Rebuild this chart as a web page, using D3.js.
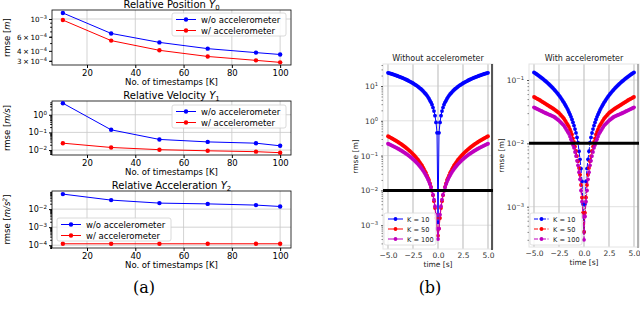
<!DOCTYPE html>
<html>
<head>
<meta charset="utf-8">
<script src="https://cdn.jsdelivr.net/npm/d3@7"></script>
<style>
body { margin: 0; background: #fff; }
svg { display: block; font-family: "DejaVu Sans", sans-serif; }
</style>
</head>
<body>
<div id="viz"></div>
<script>
// ---- (a) data ----
timestamps = [10, 30, 50, 70, 90, 100];
seriesNames = ["w/o accelerometer", "w/ accelerometer"];
posWo = [1.19e-3, 6.6e-4, 5.1e-4, 4.26e-4, 3.8e-4, 3.6e-4];
posW = [9.7e-4, 5.37e-4, 4.06e-4, 3.4e-4, 3.04e-4, 2.87e-4];
velWo = [4.5, 0.14, 0.04, 0.029, 0.0245, 0.0174];
velW = [0.0245, 0.014, 0.0105, 0.0091, 0.0081, 0.0071];
accWo = [0.068, 0.0316, 0.0215, 0.0195, 0.0167, 0.014];
accW = [1.2e-4, 1.2e-4, 1.2e-4, 1.2e-4, 1.2e-4, 1.2e-4];
xTicksA = [20, 40, 60, 80, 100];
posTicks = [1e-3, 6e-4, 4e-4, 3e-4];
posTickLabels = [["10", "\u22123"], ["6\u2009\u00d7\u200910", "\u22124"], ["4\u2009\u00d7\u200910", "\u22124"], ["3\u2009\u00d7\u200910", "\u22124"]];
velTicks = [1, 0.1, 0.01];
velTickLabels = [["10", "0"], ["10", "\u22121"], ["10", "\u22122"]];
accTicks = [1e-2, 1e-3, 1e-4];
accTickLabels = [["10", "\u22122"], ["10", "\u22123"], ["10", "\u22124"]];

// ---- (b) data ----
kNames = ["K = 10", "K = 50", "K = 100"];
time = [-5.0,-4.9,-4.8,-4.7,-4.6,-4.5,-4.4,-4.3,-4.2,-4.1,-4.0,-3.9,-3.8,-3.7,-3.6,-3.5,-3.4,-3.3,-3.2,-3.1,
  -3.0,-2.9,-2.8,-2.7,-2.6,-2.5,-2.4,-2.3,-2.2,-2.1,-2.0,-1.9,-1.8,-1.7,-1.6,-1.5,-1.4,-1.3,-1.2,-1.1,
  -1.0,-0.9,-0.8,-0.7,-0.6,-0.5,-0.4,-0.3,-0.2,-0.1,0.0,0.1,0.2,0.3,0.4,0.5,0.6,0.7,0.8,0.9,
  1.0,1.1,1.2,1.3,1.4,1.5,1.6,1.7,1.8,1.9,2.0,2.1,2.2,2.3,2.4,2.5,2.6,2.7,2.8,2.9,
  3.0,3.1,3.2,3.3,3.4,3.5,3.6,3.7,3.8,3.9,4.0,4.1,4.2,4.3,4.4,4.5,4.6,4.7,4.8,4.9,5.0];
woK10 = [24.0,23.5,23.0,22.6,22.1,21.6,21.1,20.6,20.2,19.7,19.2,18.7,18.2,17.8,17.3,16.8,16.3,15.8,15.4,14.9,
  14.4,13.9,13.4,13.0,12.5,12.0,11.5,11.0,10.6,10.1,9.6,9.1,8.6,8.2,7.7,7.2,6.7,6.2,5.8,5.3,
  4.8,4.3,3.8,3.4,2.9,2.4,1.9,1.4,0.9,0.45,0.0012,0.45,0.9,1.4,1.9,2.4,2.9,3.4,3.8,4.3,
  4.8,5.3,5.8,6.2,6.7,7.2,7.7,8.2,8.6,9.1,9.6,10.1,10.6,11.0,11.5,12.0,12.5,13.0,13.4,13.9,
  14.4,14.9,15.4,15.8,16.3,16.8,17.3,17.8,18.2,18.7,19.2,19.7,20.2,20.6,21.1,21.6,22.1,22.6,23.0,23.5,24.0];
woK50 = [0.36,0.348,0.336,0.324,0.312,0.300,0.289,0.278,0.267,0.257,0.246,0.236,0.225,0.216,0.206,0.196,0.187,0.178,0.168,0.159,
  0.151,0.142,0.134,0.126,0.118,0.111,0.103,0.096,0.089,0.082,0.076,0.069,0.063,0.057,0.052,0.046,0.041,0.036,0.032,0.027,
  0.023,0.020,0.016,0.0127,0.0098,0.0072,0.0049,0.0031,0.0016,0.0008,0.0005,0.0008,0.0016,0.0031,0.0049,0.0072,0.0098,0.0127,0.016,0.020,
  0.023,0.027,0.032,0.036,0.041,0.046,0.052,0.057,0.063,0.069,0.076,0.082,0.089,0.096,0.103,0.111,0.118,0.126,0.134,0.142,
  0.151,0.159,0.168,0.178,0.187,0.196,0.206,0.216,0.225,0.236,0.246,0.257,0.267,0.278,0.289,0.300,0.312,0.324,0.336,0.348,0.36];
woK100 = [0.22,0.2136,0.207,0.2008,0.1944,0.1882,0.1821,0.176,0.17,0.1641,0.1582,0.1524,0.1467,0.141,0.1354,0.1299,0.1245,0.1191,0.1139,0.1087,
  0.1036,0.0985,0.0935,0.0886,0.0838,0.079,0.0744,0.0699,0.0654,0.0611,0.0569,0.0528,0.0487,0.0448,0.041,0.0373,0.0337,0.0303,0.0269,0.0237,
  0.0206,0.0176,0.0149,0.0122,0.0097,0.0075,0.0054,0.0035,0.002,0.0008,0.0004,0.0008,0.002,0.0035,0.0054,0.0075,0.0097,0.0122,0.0149,0.0176,
  0.0206,0.0237,0.0269,0.0303,0.0337,0.0373,0.041,0.0448,0.0487,0.0528,0.0569,0.0611,0.0654,0.0699,0.0744,0.079,0.0838,0.0886,0.0935,0.0985,
  0.1036,0.1087,0.1139,0.1191,0.1245,0.1299,0.1354,0.141,0.1467,0.1524,0.1582,0.1641,0.17,0.176,0.1821,0.1882,0.1944,0.2008,0.207,0.2136,0.22];
wK10 = [0.132,0.1288,0.1256,0.1225,0.1193,0.1162,0.1131,0.11,0.1069,0.1039,0.1008,0.0978,0.0948,0.0918,0.0888,0.0858,0.0829,0.08,0.0771,0.0742,
  0.0714,0.0685,0.0656,0.0628,0.0601,0.0573,0.0545,0.0518,0.0491,0.0464,0.0438,0.0412,0.0386,0.0361,0.0336,0.0311,0.0286,0.0262,0.0238,0.0214,
  0.0191,0.0168,0.0146,0.0124,0.0103,0.0075,0.0056,0.004,0.0025,0.0011,0.0004,0.0011,0.0025,0.004,0.0056,0.0075,0.0103,0.0124,0.0146,0.0168,
  0.0191,0.0214,0.0238,0.0262,0.0286,0.0311,0.0336,0.0361,0.0386,0.0412,0.0438,0.0464,0.0491,0.0518,0.0545,0.0573,0.0601,0.0628,0.0656,0.0685,
  0.0714,0.0742,0.0771,0.08,0.0829,0.0858,0.0888,0.0918,0.0948,0.0978,0.1008,0.1039,0.1069,0.11,0.1131,0.1162,0.1193,0.1225,0.1256,0.1288,0.132];
wK50 = [0.054,0.053,0.0519,0.0509,0.0499,0.049,0.0479,0.0468,0.0457,0.0447,0.0437,0.0427,0.0417,0.0407,0.0398,0.0389,0.038,0.0372,0.0363,0.0355,
  0.0347,0.0337,0.0328,0.0319,0.031,0.0302,0.029,0.0278,0.0267,0.0256,0.0245,0.0231,0.0218,0.0205,0.0193,0.0182,0.0166,0.0151,0.0138,0.012,
  0.0105,0.0089,0.0076,0.0063,0.0052,0.0041,0.0032,0.0022,0.0014,0.0008,0.0004,0.0008,0.0014,0.0022,0.0032,0.0041,0.0052,0.0063,0.0076,0.0089,
  0.0105,0.012,0.0138,0.0151,0.0166,0.0182,0.0193,0.0205,0.0218,0.0231,0.0245,0.0256,0.0267,0.0278,0.029,0.0302,0.031,0.0319,0.0328,0.0337,
  0.0347,0.0355,0.0363,0.0372,0.038,0.0389,0.0398,0.0407,0.0417,0.0427,0.0437,0.0447,0.0457,0.0468,0.0479,0.049,0.0499,0.0509,0.0519,0.053,0.054];
wK100 = [0.037,0.0363,0.0356,0.0351,0.0344,0.0338,0.0332,0.0326,0.0321,0.0315,0.0309,0.0304,0.0299,0.0294,0.029,0.0285,0.0281,0.0276,0.0272,0.0267,
  0.0263,0.0256,0.0249,0.0242,0.0236,0.0229,0.0221,0.0213,0.0205,0.0198,0.0191,0.0179,0.0169,0.0159,0.015,0.0141,0.0128,0.0116,0.0105,0.0094,
  0.0085,0.0073,0.0063,0.0053,0.0045,0.0035,0.0027,0.0018,0.0012,0.0007,0.0003,0.0007,0.0012,0.0018,0.0027,0.0035,0.0045,0.0053,0.0063,0.0073,
  0.0085,0.0094,0.0105,0.0116,0.0128,0.0141,0.015,0.0159,0.0169,0.0179,0.0191,0.0198,0.0205,0.0213,0.0221,0.0229,0.0236,0.0242,0.0249,0.0256,
  0.0263,0.0267,0.0272,0.0276,0.0281,0.0285,0.029,0.0294,0.0299,0.0304,0.0309,0.0315,0.0321,0.0326,0.0332,0.0338,0.0344,0.0351,0.0356,0.0363,0.037];
threshold = 0.01;
xTicksB = [-5, -2.5, 0, 2.5, 5];

width = 640;
height = 321;
svg = d3.select("#viz").append("svg").attr("width", width).attr("height", height);

function supText(t, base, exp) {
	t.text(null);
	t.append("tspan").text(base);
	if (exp !== undefined) t.append("tspan").attr("dy", "-0.5em").attr("font-size", "0.7em").text(exp);
}

function minorTicks(domain) {
	var out = [];
	var lo = Math.floor(Math.log10(domain[0])), hi = Math.ceil(Math.log10(domain[1]));
	for (var e = lo; e <= hi; e++) for (var m = 2; m <= 9; m++) {
		var v = m * Math.pow(10, e);
		if (v > domain[0] && v < domain[1]) out.push(v);
	}
	return out;
}

// ---------- (a) panels ----------
function panelA(cfg) {
	var x = d3.scaleLinear().domain([5.5, 104.5]).range([52, 291]);
	var y = d3.scaleLog().domain(cfg.domain).range([cfg.bottom, cfg.top]);
	var g = svg.append("g");

	g.selectAll(".vg").data(xTicksA).enter().append("line")
		.attr("x1", d => x(d)).attr("x2", d => x(d))
		.attr("y1", cfg.top).attr("y2", cfg.bottom)
		.attr("stroke", "#c8c8c8").attr("stroke-width", 0.8);
	g.selectAll(".hg").data(cfg.grid).enter().append("line")
		.attr("x1", 52).attr("x2", 291)
		.attr("y1", d => y(d)).attr("y2", d => y(d))
		.attr("stroke", "#c8c8c8").attr("stroke-width", 0.8);

	var xa = g.append("g").attr("transform", "translate(0," + cfg.bottom + ")")
		.call(d3.axisBottom(x).tickValues(xTicksA).tickSize(3).tickPadding(2).tickFormat(d3.format("d")));
	xa.select(".domain").remove();
	xa.selectAll("text").attr("font-size", 8.5).attr("fill", "#000").attr("font-family", "DejaVu Sans");

	var ya = g.append("g").attr("transform", "translate(52,0)")
		.call(d3.axisLeft(y).tickValues(cfg.ticks).tickSize(3).tickPadding(2));
	ya.select(".domain").remove();
	ya.selectAll(".tick text").attr("font-size", cfg.tickFont).attr("fill", "#000").attr("font-family", "DejaVu Sans")
		.each(function(d, i) { supText(d3.select(this), cfg.tickLabels[i][0], cfg.tickLabels[i][1]); });
	g.append("g").attr("transform", "translate(52,0)")
		.call(d3.axisLeft(y).tickValues(minorTicks(cfg.domain).filter(v => cfg.ticks.indexOf(v) < 0)).tickSize(1.8).tickFormat(""))
		.select(".domain").remove();

	g.append("rect").attr("x", 52).attr("y", cfg.top).attr("width", 239).attr("height", cfg.bottom - cfg.top)
		.attr("fill", "none").attr("stroke", "#000").attr("stroke-width", 0.8);

	var line = d3.line().x((d, i) => x(timestamps[i])).y(d => y(d));
	[[cfg.wo, "#0000ff"], [cfg.w, "#ff0000"]].forEach(function(s) {
		g.append("path").datum(s[0]).attr("d", line).attr("fill", "none").attr("stroke", s[1]).attr("stroke-width", 1);
		g.selectAll(null).data(s[0]).enter().append("circle")
			.attr("cx", (d, i) => x(timestamps[i])).attr("cy", d => y(d)).attr("r", 2.2).attr("fill", s[1]);
	});

	// title
	var t = g.append("text").attr("x", 171.5).attr("y", cfg.top - 2).attr("text-anchor", "middle")
		.attr("font-size", 10).text(cfg.title + " ");
	t.append("tspan").attr("font-style", "italic").text("Y");
	t.append("tspan").attr("dy", 2).attr("font-size", 7).text(cfg.sub);

	g.append("text").attr("x", 171.5).attr("y", cfg.bottom + 20).attr("text-anchor", "middle")
		.attr("font-size", 8.5).text("No. of timestamps [K]");

	var yl = g.append("text").attr("transform", "translate(10," + ((cfg.top + cfg.bottom) / 2) + ") rotate(-90)")
		.attr("text-anchor", "middle").attr("font-size", 8.5).text("rmse [");
	yl.append("tspan").attr("font-style", "italic").text(cfg.unit);
	if (cfg.unitExp) yl.append("tspan").attr("dy", -3).attr("font-size", 6).attr("font-style", "italic").text(cfg.unitExp);
	yl.append("tspan").attr("dy", cfg.unitExp ? 3 : 0).text("]");

	// legend
	var lg = g.append("g").attr("transform", "translate(" + cfg.legX + "," + cfg.legY + ")");
	lg.append("rect").attr("width", 114).attr("height", 23).attr("rx", 2)
		.attr("fill", "#fff").attr("fill-opacity", 0.85).attr("stroke", "#d0d0d0").attr("stroke-width", 0.8);
	["#0000ff", "#ff0000"].forEach(function(c, i) {
		var yy = 6.5 + i * 11;
		lg.append("line").attr("x1", 4).attr("x2", 24).attr("y1", yy).attr("y2", yy).attr("stroke", c).attr("stroke-width", 1);
		lg.append("circle").attr("cx", 14).attr("cy", yy).attr("r", 2.2).attr("fill", c);
		lg.append("text").attr("x", 29).attr("y", yy + 3).attr("font-size", 8.5).text(seriesNames[i]);
	});
}

panelA({top: 10, bottom: 65, domain: [2.66e-4, 1.296e-3], ticks: posTicks, tickLabels: posTickLabels, grid: [1e-3], tickFont: 7.2,
	wo: posWo, w: posW, title: "Relative Position", sub: "0", unit: "m", legX: 172, legY: 13});
panelA({top: 101, bottom: 155, domain: [5.25e-3, 6.0], ticks: velTicks, tickLabels: velTickLabels, grid: velTicks, tickFont: 8,
	wo: velWo, w: velW, title: "Relative Velocity", sub: "1", unit: "m/s", legX: 172, legY: 105});
panelA({top: 191, bottom: 248, domain: [7.0e-5, 0.101], ticks: accTicks, tickLabels: accTickLabels, grid: accTicks, tickFont: 8,
	wo: accWo, w: accW, title: "Relative Acceleration", sub: "2", unit: "m/s", unitExp: "2", legX: 57, legY: 218});

// ---------- (b) panels ----------
function panelB(cfg) {
	var x = d3.scaleLinear().domain([-5.5, 5.5]).range([cfg.left, cfg.left + 110]);
	var y = d3.scaleLog().domain(cfg.domain).range([cfg.bottom, 64]);
	var g = svg.append("g");
	var right = cfg.left + 110;

	g.selectAll(".hg").data(cfg.ticks).enter().append("line")
		.attr("x1", cfg.left).attr("x2", right).attr("y1", d => y(d)).attr("y2", d => y(d))
		.attr("stroke", "#e0e0e0").attr("stroke-width", 1);
	g.selectAll(".vg").data(xTicksB).enter().append("line")
		.attr("x1", d => x(d)).attr("x2", d => x(d)).attr("y1", 64).attr("y2", cfg.bottom)
		.attr("stroke", "#c4c4c4").attr("stroke-width", 1.2);
	g.append("rect").attr("x", cfg.left).attr("y", 64).attr("width", 110).attr("height", cfg.bottom - 64)
		.attr("fill", "none").attr("stroke", "#e4e4e4").attr("stroke-width", 1);

	var xa = g.append("g").attr("transform", "translate(0," + cfg.bottom + ")")
		.call(d3.axisBottom(x).tickValues(xTicksB).tickSize(0).tickPadding(4).tickFormat(d => d3.format(".1f")(d).replace("-", "\u2212")));
	xa.select(".domain").remove();
	xa.selectAll("text").attr("font-size", 7.5).attr("fill", "#333").attr("font-family", "DejaVu Sans");

	var ya = g.append("g").attr("transform", "translate(" + cfg.left + ",0)")
		.call(d3.axisLeft(y).tickValues(cfg.ticks).tickSize(2).tickPadding(3));
	ya.select(".domain").remove();
	ya.selectAll("line").attr("stroke", "#555");
	ya.selectAll(".tick text").attr("font-size", 7.5).attr("fill", "#333").attr("font-family", "DejaVu Sans")
		.each(function(d, i) { supText(d3.select(this), cfg.tickLabels[i][0], cfg.tickLabels[i][1]); });
	var ym = g.append("g").attr("transform", "translate(" + cfg.left + ",0)")
		.call(d3.axisLeft(y).tickValues(minorTicks(cfg.domain)).tickSize(1.5).tickFormat(""));
	ym.select(".domain").remove();
	ym.selectAll("line").attr("stroke", "#888");

	if (cfg.edge) g.append("line").attr("x1", right - 1).attr("x2", right - 1).attr("y1", 64).attr("y2", cfg.bottom + 1)
		.attr("stroke", cfg.edge).attr("stroke-width", 1.5);

	var colors = ["#0000ff", "#ff0000", "#bf00bf"];
	var line = d3.line().x((d, i) => x(time[i])).y(d => y(d));
	cfg.series.forEach(function(s, k) {
		g.append("path").datum(s).attr("d", line).attr("fill", "none").attr("stroke", colors[k])
			.attr("stroke-width", 1).attr("stroke-dasharray", cfg.dash);
		g.selectAll(null).data(s).enter().append("circle")
			.attr("cx", (d, i) => x(time[i])).attr("cy", d => y(d)).attr("r", 1.9).attr("fill", colors[k]);
	});
	g.append("line").attr("x1", cfg.left).attr("x2", right).attr("y1", y(threshold)).attr("y2", y(threshold))
		.attr("stroke", "#000").attr("stroke-width", 3);

	g.append("text").attr("x", cfg.left + 55).attr("y", 61).attr("text-anchor", "middle")
		.attr("font-size", 8).attr("fill", "#222").text(cfg.title);
	g.append("text").attr("x", cfg.left + 55).attr("y", cfg.bottom + 18).attr("text-anchor", "middle")
		.attr("font-size", 7.5).attr("fill", "#222").text("time [s]");
	g.append("text").attr("transform", "translate(" + cfg.ylabX + "," + ((64 + cfg.bottom) / 2) + ") rotate(-90)")
		.attr("text-anchor", "middle").attr("font-size", 7.5).attr("fill", "#222").text("rmse [m]");

	var lg = g.append("g").attr("transform", "translate(" + (cfg.left + 1) + ",213)");
	lg.append("rect").attr("width", 52).attr("height", 32).attr("rx", 2)
		.attr("fill", "#fff").attr("fill-opacity", 0.85).attr("stroke", "#d8d8d8").attr("stroke-width", 0.8);
	colors.forEach(function(c, i) {
		var yy = 6 + i * 10;
		lg.append("line").attr("x1", 4).attr("x2", 19).attr("y1", yy).attr("y2", yy).attr("stroke", c)
			.attr("stroke-width", 1).attr("stroke-dasharray", cfg.dash);
		lg.append("circle").attr("cx", 11.5).attr("cy", yy).attr("r", 1.9).attr("fill", c);
		lg.append("text").attr("x", 23).attr("y", yy + 2.5).attr("font-size", 6.6).attr("fill", "#222").text(kNames[i]);
	});
}

panelB({left: 383, bottom: 249, domain: [2.07e-4, 42.9], ticks: [10, 1, 0.1, 0.01, 0.001],
	tickLabels: [["10", "1"], ["10", "0"], ["10", "\u22121"], ["10", "\u22122"], ["10", "\u22123"]],
	series: [woK10, woK50, woK100], dash: null, title: "Without accelerometer", ylabX: 358, edge: "#222"});
panelB({left: 529, bottom: 247, domain: [2.31e-4, 0.179], ticks: [0.1, 0.01, 0.001],
	tickLabels: [["10", "\u22121"], ["10", "\u22122"], ["10", "\u22123"]],
	series: [wK10, wK50, wK100], dash: "4,1.5,1,1.5", title: "With accelerometer", ylabX: 504, edge: "#999"});

svg.append("text").attr("x", 144).attr("y", 293).attr("text-anchor", "middle")
	.attr("font-family", "DejaVu Serif").attr("font-size", 16).text("(a)");
svg.append("text").attr("x", 430).attr("y", 293).attr("text-anchor", "middle")
	.attr("font-family", "DejaVu Serif").attr("font-size", 16).text("(b)");
</script>
</body>
</html>
